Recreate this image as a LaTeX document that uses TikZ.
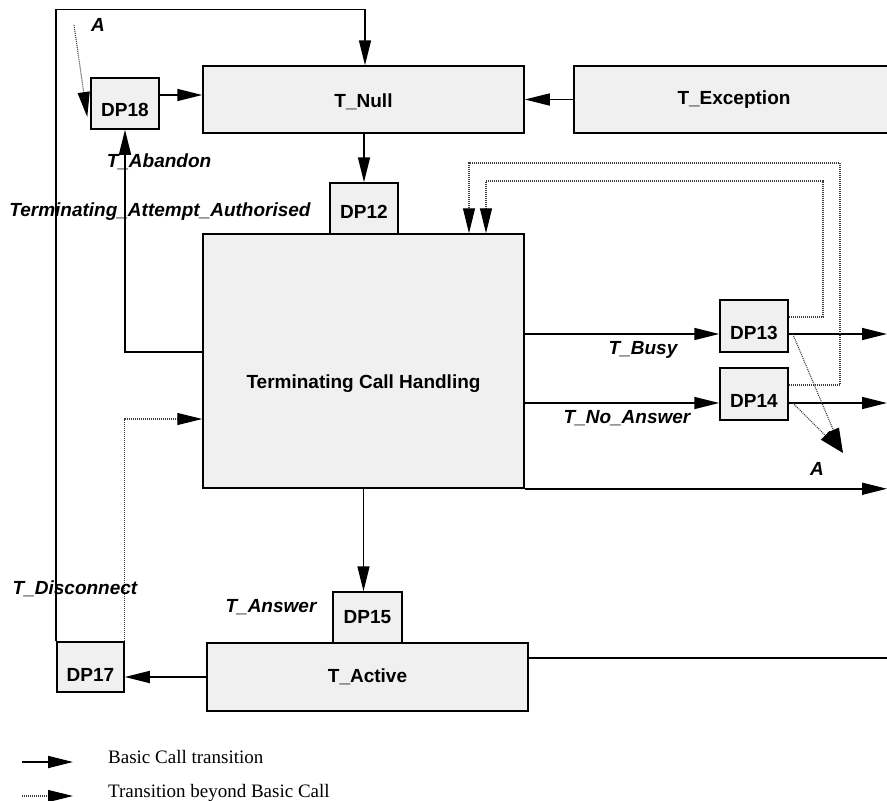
\documentclass[tikz,border=0pt]{standalone}
\usepackage{fontspec}
\setmainfont{Liberation Serif}
\newfontfamily\arialf{Liberation Sans}
\usetikzlibrary{arrows.meta}
\definecolor{boxfill}{RGB}{240,240,240}
\definecolor{dotgray}{RGB}{60,60,60}
\newcommand\bxfont{\arialf\bfseries\fontsize{19}{22}\selectfont}
\newcommand\lbfont{\arialf\bfseries\itshape\fontsize{19}{22}\selectfont}
\tikzset{
  box/.style={draw=black, fill=boxfill, line width=1.5pt, inner sep=0pt},
  boxtext/.style={font=\bxfont, inner sep=0pt},
  lab/.style={font=\lbfont, inner sep=0pt},
  legtext/.style={font=\fontsize{19}{22}\selectfont, inner sep=0pt, anchor=base west},
  basic/.style={line width=1.7pt},
  arr/.style={line width=1.7pt, -{Triangle[length=25pt,width=12pt]}},
  dotarr/.style={line width=1.1pt, dotgray, dash pattern=on 1pt off 1pt,
    -{Triangle[length=25pt,width=12pt,color=black]}},
}
\begin{document}
\begin{tikzpicture}[x=1pt,y=-1pt]
\useasboundingbox (0,0) rectangle (887,801);

% boxes
\node[box, minimum width=321pt, minimum height=67pt,
  label={[boxtext,yshift=-2.5pt]center:T\_Null}] (tnull) at (363.5,99.5) {};
\node[box, minimum width=316pt, minimum height=67pt,
  label={[boxtext,xshift=2pt]center:T\_Exception}] (texc) at (732,99.5) {};
\node[box, minimum width=68pt, minimum height=51pt,
  label={[boxtext,yshift=-6.5pt]center:DP18}] (dp18) at (125,103.5) {};
\node[box, minimum width=68pt, minimum height=51pt,
  label={[boxtext,yshift=-3.5pt]center:DP12}] (dp12) at (364,208.5) {};
\node[box, minimum width=321pt, minimum height=254pt,
  label={[boxtext,yshift=-23pt]center:Terminating Call Handling}] (tch) at (363.5,361) {};
\node[box, minimum width=68pt, minimum height=52pt,
  label={[boxtext,yshift=-7pt]center:DP13}] (dp13) at (754,326) {};
\node[box, minimum width=68pt, minimum height=52pt,
  label={[boxtext,yshift=-7pt]center:DP14}] (dp14) at (754,394) {};
\node[box, minimum width=69pt, minimum height=51pt,
  label={[boxtext]center:DP15}] (dp15) at (367.5,617.5) {};
\node[box, minimum width=321pt, minimum height=68pt,
  label={[boxtext]center:T\_Active}] (tactive) at (367.5,677) {};
\node[box, minimum width=67pt, minimum height=50pt,
  label={[boxtext,yshift=-8pt]center:DP17}] (dp17) at (90.5,667) {};

% helper coordinates
\coordinate (topR) at (365,9.5);
\coordinate (outx) at (887,0);
\coordinate (Astart) at (74,25);
\coordinate (Atip) at (843,453);
\coordinate (p18) at ([yshift=8.5pt]dp18.east);
\coordinate (pab) at ([yshift=9pt]tch.west);
\coordinate (pA18) at ([xshift=-3pt,yshift=-13.5pt]dp18.west);
\coordinate (pact) at ([yshift=19pt]tactive.east);
\coordinate (p17) at ([yshift=-58pt]tch.west);
\coordinate (b13) at ([yshift=-8pt]dp13.west);
\coordinate (b14) at ([yshift=-9pt]dp14.west);
\coordinate (e13) at ([yshift=-8pt]dp13.east);
\coordinate (e14) at ([yshift=-9pt]dp14.east);
\coordinate (l13) at ([yshift=9pt]dp13.east);
\coordinate (l14) at ([yshift=9pt]dp14.east);
\coordinate (in1) at (823,181);
\coordinate (out1) at (840,163);
\coordinate (t1) at (486,0);
\coordinate (t2) at (469,0);
\coordinate (d13) at ([xshift=4pt,yshift=-8pt]dp13.east);
\coordinate (d14) at ([xshift=4pt,yshift=-9pt]dp14.east);

% solid transitions
\draw[arr] (dp17.north west) |- (topR) -- (topR |- tnull.north);
\draw[arr] (p18) -- (p18 -| tnull.west);
\draw[arr] (texc.west) -- (tnull.east);
\draw[arr] (dp12.north |- tnull.south) -- (dp12.north);
\draw[arr] (pab) -| (dp18.south);
\draw[arr] (tch.south) -- (tch.south |- dp15.north);
\draw[arr] (tactive.west) -- (tactive.west -| dp17.east);
\draw[basic] (pact) -- (pact -| outx);
\draw[arr] (b13 -| tch.east) -- (b13);
\draw[arr] (b14 -| tch.east) -- (b14);
\draw[arr] (e13) -- (e13 -| outx);
\draw[arr] (e14) -- (e14 -| outx);
\draw[arr] (tch.south east) -- (tch.south east -| outx);

% dotted transitions
\draw[dotarr] (Astart) -- (pA18);
\draw[dotarr] (dp17.north east) |- (p17);
\draw[dotarr] (l13) -| (in1) -| (t1 |- tch.north);
\draw[dotarr] (l14) -| (out1) -| (t2 |- tch.north);
\draw[dotarr] (d13) -- (Atip);
\draw[dotarr] (d14) -- (Atip);

% labels
\node[lab] (labA1) at (98,25) {A};
\node[lab] (labA2) at (817,469) {A};
\node[lab] (labab) at (159,162) {T\_Abandon};
\node[lab] (labtaa) at (160,212) {Terminating\_Attempt\_Authorised};
\node[lab] (labbusy) at (643,350) {T\_Busy};
\node[lab] (labna) at (627,418) {T\_No\_Answer};
\node[lab] (labdis) at (75,589) {T\_Disconnect};
\node[lab] (labans) at (271,607) {T\_Answer};

% legend
\coordinate (lg1s) at (22,762);
\coordinate (lg1e) at (73,762);
\coordinate (lg2s) at (22,796);
\coordinate (lg2e) at (73,796);
\draw[arr] (lg1s) -- (lg1e);
\draw[dotarr] (lg2s) -- (lg2e);
\node[legtext] (leg1) at (108,763) {Basic Call transition};
\node[legtext] (leg2) at (108,797) {Transition beyond Basic Call};
\end{tikzpicture}
\end{document}
